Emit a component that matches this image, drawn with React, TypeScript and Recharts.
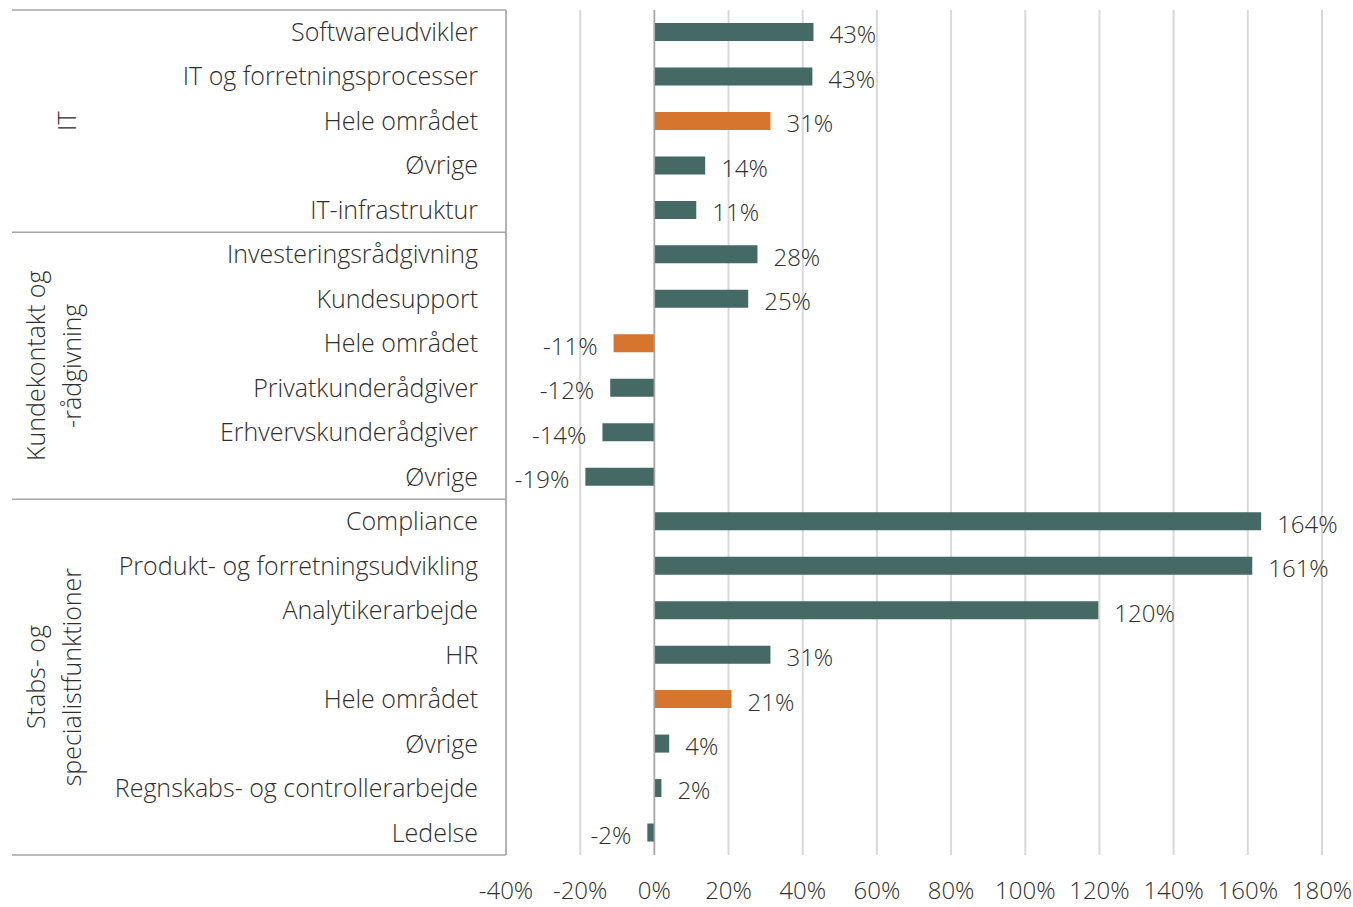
import React from "react";
import {
  BarChart,
  Bar,
  XAxis,
  YAxis,
  CartesianGrid,
  ReferenceLine,
  Cell,
  LabelList,
} from "recharts";

// Groups (rotated labels at the left) and how many rows each one holds
const groupLabels = [["IT"], ["Kundekontakt og", "-rådgivning"], ["Stabs- og", "specialistfunktioner"]];
const groupSizes = [5, 6, 8];

const categories = [
  "Softwareudvikler",
  "IT og forretningsprocesser",
  "Hele området",
  "Øvrige",
  "IT-infrastruktur",
  "Investeringsrådgivning",
  "Kundesupport",
  "Hele området",
  "Privatkunderådgiver",
  "Erhvervskunderådgiver",
  "Øvrige",
  "Compliance",
  "Produkt- og forretningsudvikling",
  "Analytikerarbejde",
  "HR",
  "Hele området",
  "Øvrige",
  "Regnskabs- og controllerarbejde",
  "Ledelse",
];

// growth, as fractions
const growth = [
  0.429, 0.426, 0.313, 0.137, 0.113, 0.278, 0.253, -0.11, -0.119, -0.14, -0.186,
  1.636, 1.612, 1.197, 0.313, 0.208, 0.04, 0.019, -0.019,
];

const xTicks = [-0.4, -0.2, 0, 0.2, 0.4, 0.6, 0.8, 1.0, 1.2, 1.4, 1.6, 1.8];

const TEAL = "#456965";
const ORANGE = "#D5752E";
const TEXT = "#2e2e2e";
const FONT = "'Open Sans', sans-serif";

const W = 1353;
const H = 907;
const margin = { top: 10, right: 31, left: 0, bottom: 0 };
const Y_AXIS_W = 506;
const X_AXIS_H = 52;

const data = categories.map((name, i) => ({ key: `${i}`, name, value: growth[i] }));

// first row index of every group
const groupStarts = groupSizes.map((_, g) => groupSizes.slice(0, g).reduce((a, b) => a + b, 0));

const plotH = H - margin.top - margin.bottom - X_AXIS_H;
const band = plotH / categories.length;

const CategoryTick = (props: any) => {
  const { x, y, payload } = props;
  const index = Number(payload.value);
  const g = groupStarts.indexOf(index);
  const last = index === categories.length - 1;
  return (
    <g>
      <text
        x={x - 28}
        y={y}
        dy="0.35em"
        textAnchor="end"
        fill={TEXT}
        fontSize={25}
        fontWeight={300}
        fontFamily={FONT}
      >
        {categories[index]}
      </text>
      {g >= 0 && (
        <line x1={12} x2={x} y1={y - band / 2} y2={y - band / 2} stroke="#a6a6a6" strokeWidth={1.5} />
      )}
      {last && (
        <line x1={12} x2={x} y1={y + band / 2} y2={y + band / 2} stroke="#a6a6a6" strokeWidth={1.5} />
      )}
      {g >= 0 &&
        (() => {
          const cy = y - band / 2 + (groupSizes[g] * band) / 2;
          const lines = groupLabels[g];
          return lines.map((ln, li) => {
            const cx = lines.length === 1 ? 67 : 36 + li * 36;
            return (
              <text
                key={li}
                x={cx}
                y={cy}
                dy="0.35em"
                textAnchor="middle"
                transform={`rotate(-90 ${cx} ${cy})`}
                fill={TEXT}
                fontSize={25}
                fontWeight={300}
                fontFamily={FONT}
              >
                {ln}
              </text>
            );
          });
        })()}
    </g>
  );
};

const PercentTick = (props: any) => {
  const { x, y, payload } = props;
  return (
    <text
      x={x}
      y={y + 36}
      dy="0.35em"
      textAnchor="middle"
      fill={TEXT}
      fontSize={24}
      fontWeight={300}
      fontFamily={FONT}
    >
      {`${Math.round(payload.value * 100)}%`}
    </text>
  );
};

const ValueLabel = (props: any) => {
  const { x, y, width, height, value } = props;
  const left = Math.min(x, x + width);
  const right = Math.max(x, x + width);
  const pos = value >= 0;
  return (
    <text
      x={pos ? right + 16 : left - 16}
      y={y + height / 2 + 3}
      dy="0.35em"
      textAnchor={pos ? "start" : "end"}
      fill={TEXT}
      fontSize={24}
      fontWeight={300}
      fontFamily={FONT}
    >
      {`${Math.round(value * 100)}%`}
    </text>
  );
};

export default function App() {
  return (
    <div style={{ position: "absolute", left: 0, top: 0, width: W, height: H, background: "#fff" }}>
      <BarChart width={W} height={H} data={data} layout="vertical" margin={margin}>
        <CartesianGrid horizontal={false} stroke="#d9d9d9" strokeWidth={2} />
        <XAxis
          type="number"
          domain={[-0.4, 1.8]}
          ticks={xTicks}
          axisLine={false}
          tickLine={false}
          tickSize={0}
          tickMargin={0}
          height={X_AXIS_H}
          tick={<PercentTick />}
          interval={0}
        />
        <YAxis
          type="category"
          dataKey="key"
          width={Y_AXIS_W}
          axisLine={{ stroke: "#a6a6a6", strokeWidth: 1.5 }}
          tickLine={false}
          tickSize={0}
          tickMargin={0}
          tick={<CategoryTick />}
          interval={0}
        />
        <ReferenceLine x={0} stroke="#a6a6a6" strokeWidth={1.5} />
        <Bar dataKey="value" barSize={18} isAnimationActive={false}>
          {data.map((d, i) => (
            <Cell key={`cell-${i}`} fill={d.name === "Hele området" ? ORANGE : TEAL} />
          ))}
          <LabelList dataKey="value" content={<ValueLabel />} />
        </Bar>
      </BarChart>
    </div>
  );
}
